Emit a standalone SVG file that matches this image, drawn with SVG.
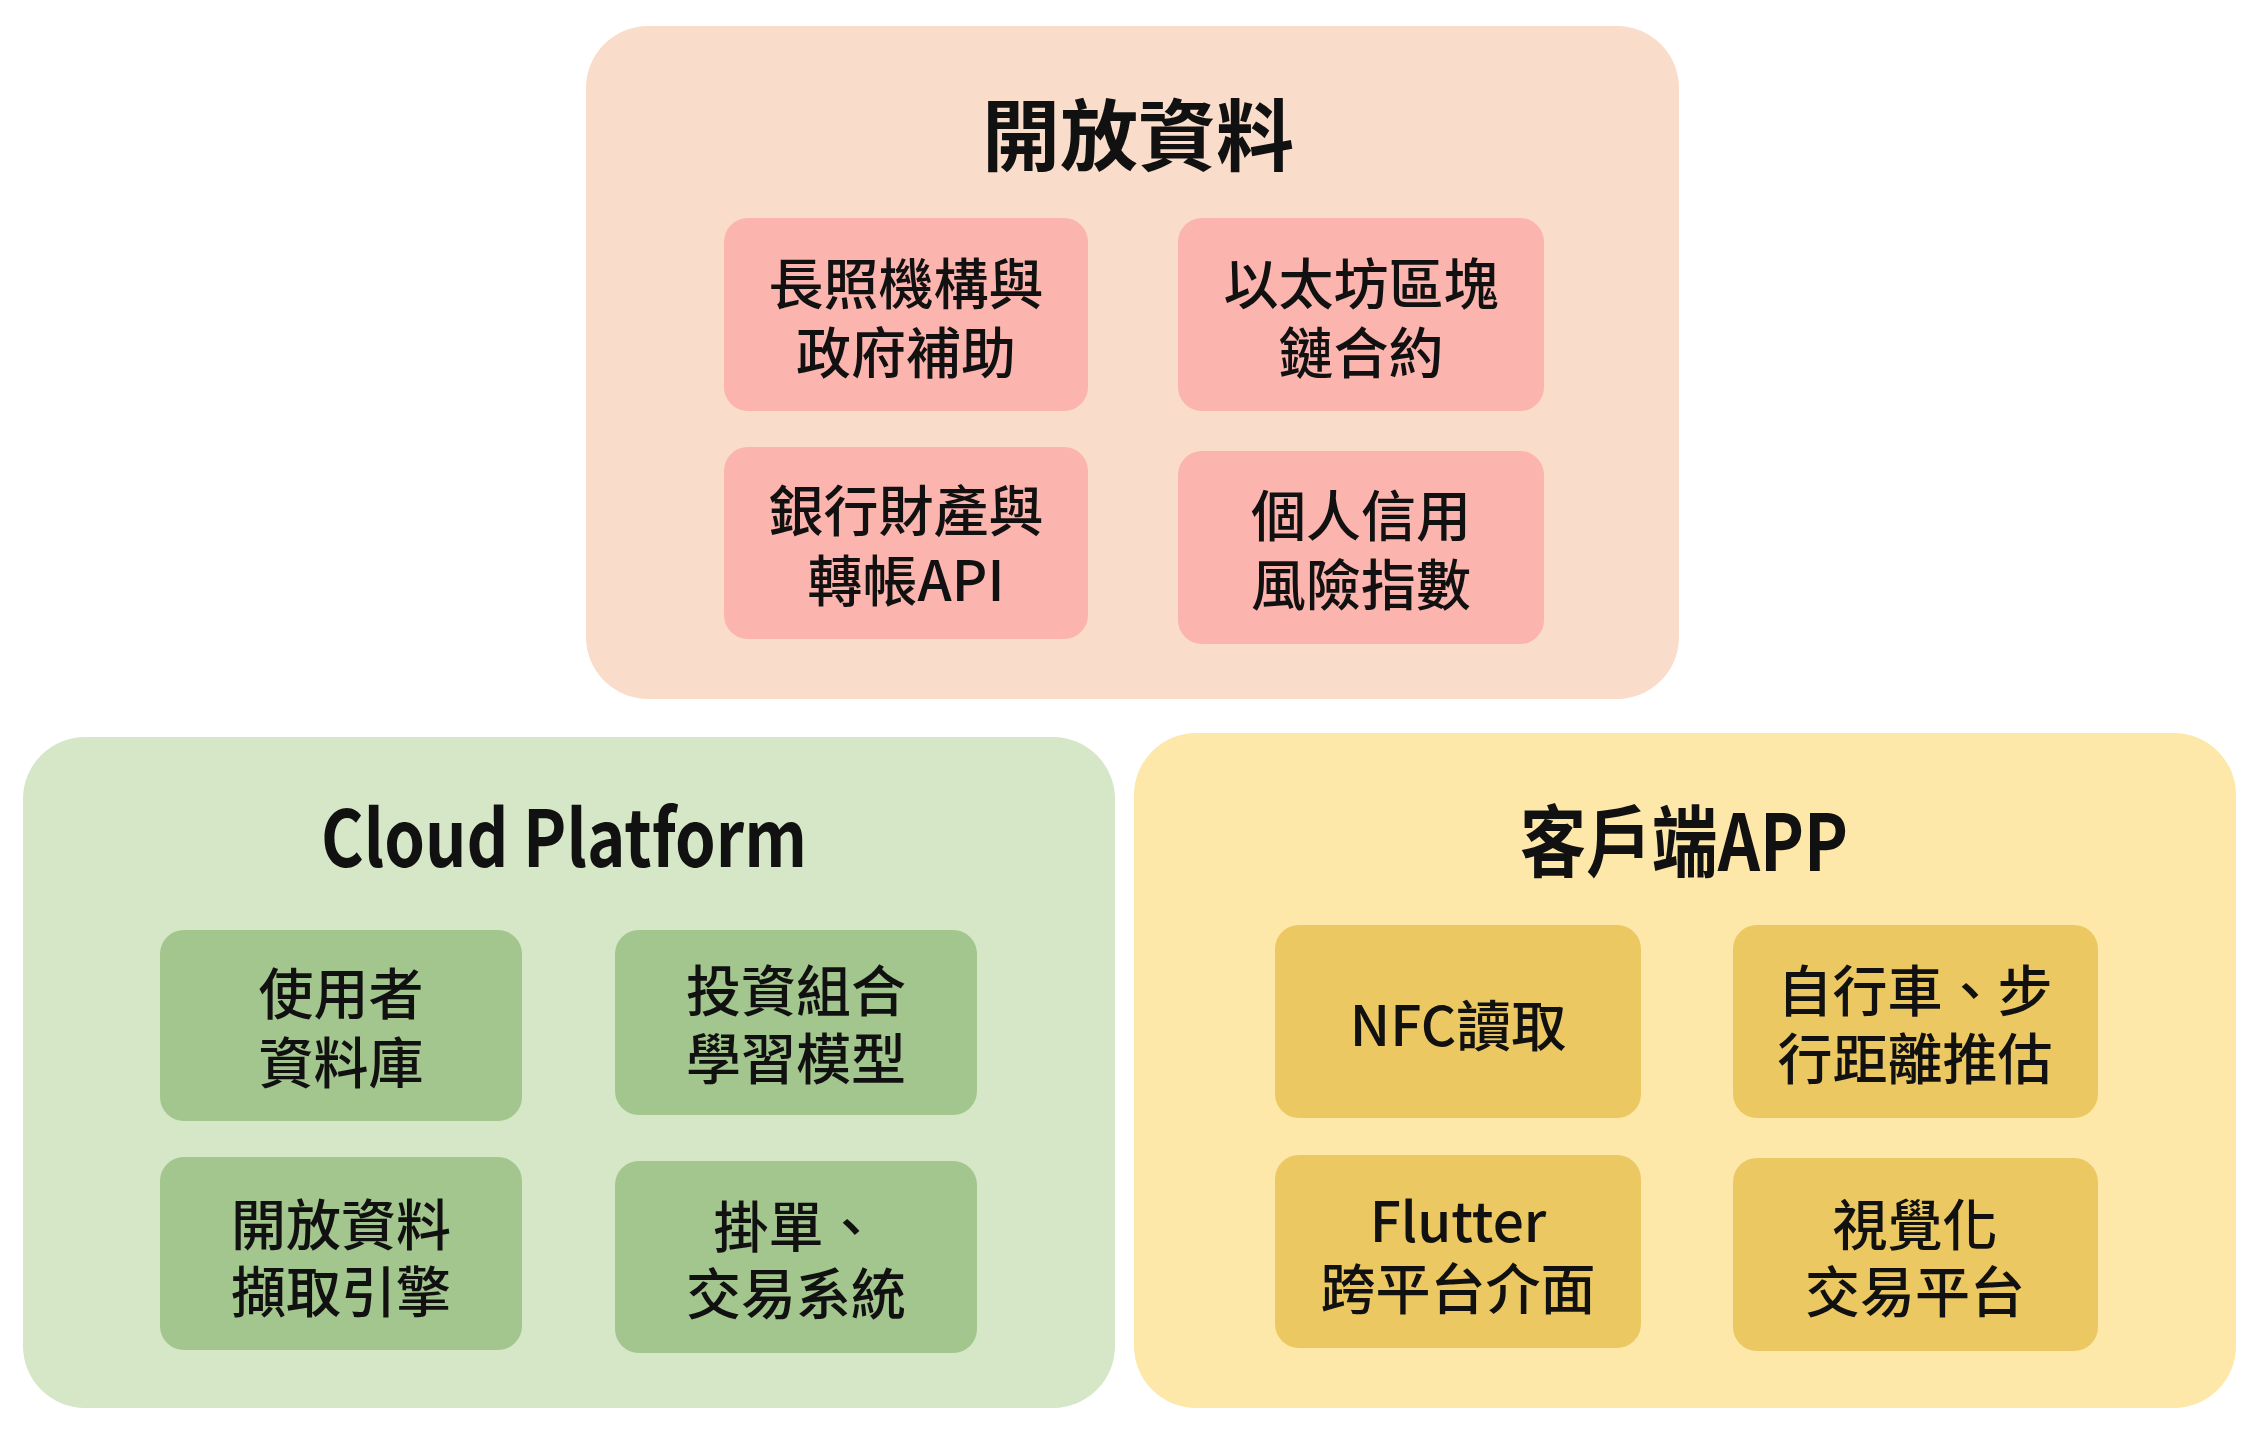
<svg xmlns="http://www.w3.org/2000/svg" width="2259" height="1430" viewBox="0 0 2259 1430">
<style>
  .t { font-family: "Noto Sans CJK TC", "Noto Sans", sans-serif; fill: #111; text-anchor: middle; dominant-baseline: central; }
  .title { font-size: 78px; font-weight: bold; }
  .lbl { font-size: 55px; font-weight: 500; }
  .p-open { fill: #F9DCCA; }
  .b-open { fill: #FBB4AE; }
  .p-cloud { fill: #D5E7C6; }
  .b-cloud { fill: #A3C58E; }
  .p-app { fill: #FDE8AA; }
  .b-app { fill: #EBC862; }
</style>
<rect width="2259" height="1430" fill="#ffffff"/>

<g id="panel-open-data">
  <rect class="p-open" x="586" y="26" width="1093" height="673" rx="62"/>
  <text class="t title" x="1138" y="131">開放資料</text>
</g>
<g id="node-ltc">
  <rect class="b-open" x="724" y="218" width="364" height="193" rx="24"/>
  <text class="t lbl" x="906" y="280">長照機構與</text>
  <text class="t lbl" x="906" y="349">政府補助</text>
</g>
<g id="node-eth">
  <rect class="b-open" x="1178" y="218" width="366" height="193" rx="24"/>
  <text class="t lbl" x="1361" y="280">以太坊區塊</text>
  <text class="t lbl" x="1361" y="349">鏈合約</text>
</g>
<g id="node-bank">
  <rect class="b-open" x="724" y="447" width="364" height="192" rx="24"/>
  <text class="t lbl" x="906" y="507">銀行財產與</text>
  <text class="t lbl" x="906" y="577">轉帳API</text>
</g>
<g id="node-credit">
  <rect class="b-open" x="1178" y="451" width="366" height="193" rx="24"/>
  <text class="t lbl" x="1361" y="512">個人信用</text>
  <text class="t lbl" x="1361" y="581">風險指數</text>
</g>

<g id="panel-cloud">
  <rect class="p-cloud" x="23" y="737" width="1092" height="671" rx="62"/>
  <text class="t title" x="564" y="833" font-size="72" textLength="486" lengthAdjust="spacingAndGlyphs">Cloud Platform</text>
</g>
<g id="node-userdb">
  <rect class="b-cloud" x="160" y="930" width="362" height="191" rx="24"/>
  <text class="t lbl" x="341" y="990">使用者</text>
  <text class="t lbl" x="341" y="1059">資料庫</text>
</g>
<g id="node-portfolio">
  <rect class="b-cloud" x="615" y="930" width="362" height="185" rx="24"/>
  <text class="t lbl" x="796" y="987">投資組合</text>
  <text class="t lbl" x="796" y="1055">學習模型</text>
</g>
<g id="node-crawler">
  <rect class="b-cloud" x="160" y="1157" width="362" height="193" rx="24"/>
  <text class="t lbl" x="341" y="1221">開放資料</text>
  <text class="t lbl" x="341" y="1288">擷取引擎</text>
</g>
<g id="node-trade">
  <rect class="b-cloud" x="615" y="1161" width="362" height="192" rx="24"/>
  <text class="t lbl" x="796" y="1223">掛單、</text>
  <text class="t lbl" x="796" y="1290">交易系統</text>
</g>

<g id="panel-app">
  <rect class="p-app" x="1134" y="733" width="1102" height="675" rx="62"/>
  <text class="t title" x="1684" y="837" font-size="74" textLength="328" lengthAdjust="spacingAndGlyphs">客戶端APP</text>
</g>
<g id="node-nfc">
  <rect class="b-app" x="1275" y="925" width="366" height="193" rx="24"/>
  <text class="t lbl" x="1458" y="1022">NFC讀取</text>
</g>
<g id="node-distance">
  <rect class="b-app" x="1733" y="925" width="365" height="193" rx="24"/>
  <text class="t lbl" x="1915" y="987">自行車、步</text>
  <text class="t lbl" x="1915" y="1055">行距離推估</text>
</g>
<g id="node-flutter">
  <rect class="b-app" x="1275" y="1155" width="366" height="193" rx="24"/>
  <text class="t lbl" x="1458" y="1218">Flutter</text>
  <text class="t lbl" x="1458" y="1285">跨平台介面</text>
</g>
<g id="node-visual">
  <rect class="b-app" x="1733" y="1158" width="365" height="193" rx="24"/>
  <text class="t lbl" x="1915" y="1221">視覺化</text>
  <text class="t lbl" x="1915" y="1288">交易平台</text>
</g>

<g id="connectors"></g>
</svg>
